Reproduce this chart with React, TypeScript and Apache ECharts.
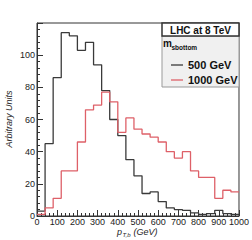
import React, { useEffect, useRef } from "react";
import * as echarts from "echarts";

// Lower edges of the 40 GeV bins
const binLow = [0, 40, 80, 120, 160, 200, 240, 280, 320, 360, 400, 440, 480, 520, 560, 600, 640, 680, 720, 760, 800, 840, 880, 920, 960];
const xMax = 1000;
const seriesNames = ["500 GeV", "1000 GeV"];
// m_sbottom = 500 GeV
const sb500 = [3, 45, 86, 114, 112, 103, 108, 94, 78, 60, 50, 35, 25, 14, 15, 9, 5, 4, 3.5, 2, 1, 1.5, 3.5, 1.5, 1];
// m_sbottom = 1000 GeV
const sb1000 = [1, 5, 11, 28, 28, 46, 66, 69, 77, 71, 52, 61, 54, 51, 49, 46, 40, 36, 40, 28, 24, 24, 11, 16, 15];

const toSteps = (vals: number[]) => {
  const pts: number[][] = binLow.map((x, i) => [x, vals[i]]);
  pts.push([xMax, vals[vals.length - 1]]);
  return pts;
};

const FONT = "Liberation Sans, Arial, Helvetica, sans-serif";

export default function App() {
  const ref = useRef<HTMLDivElement>(null);
  useEffect(() => {
    if (!ref.current) return;
    const chart = echarts.init(ref.current, undefined, { renderer: "svg" });
    chart.setOption({
      animation: false,
      backgroundColor: "#ffffff",
      textStyle: { fontFamily: FONT },
      grid: {
        left: 37,
        top: 23,
        width: 202,
        height: 193,
        show: true,
        borderColor: "#333",
        borderWidth: 1,
      },
      xAxis: {
        type: "value",
        min: 0,
        max: xMax,
        interval: 100,
        axisLine: { show: true, lineStyle: { color: "#333", width: 1 } },
        axisTick: { show: true, inside: true, length: 6, lineStyle: { color: "#333" } },
        minorTick: { show: true, splitNumber: 5, length: 3, lineStyle: { color: "#333" } },
        splitLine: { show: false },
        axisLabel: { fontSize: 9, color: "#222", margin: 1, fontFamily: FONT, formatter: (v: number) => String(v) },
      },
      yAxis: {
        type: "value",
        min: 0,
        max: 120,
        interval: 20,
        axisLine: { show: true, lineStyle: { color: "#333", width: 1 } },
        axisTick: { show: true, inside: true, length: 6, lineStyle: { color: "#333" } },
        minorTick: { show: true, splitNumber: 5, length: 3, lineStyle: { color: "#333" } },
        splitLine: { show: false },
        axisLabel: { fontSize: 9, color: "#222", margin: 2, showMaxLabel: false, fontFamily: FONT },
      },
      legend: {
        data: seriesNames,
        orient: "vertical",
        left: 166,
        top: 54,
        icon: "rect",
        itemWidth: 12,
        itemHeight: 1.3,
        itemGap: 3,
        z: 10,
        textStyle: { fontSize: 11, fontWeight: "bold", color: "#111", lineHeight: 12, fontFamily: FONT },
      },
      series: [
        {
          name: seriesNames[0],
          type: "line",
          step: "end",
          symbol: "none",
          data: toSteps(sb500),
          lineStyle: { color: "#3a3a3a", width: 1.3 },
          itemStyle: { color: "#3a3a3a" },
        },
        {
          name: seriesNames[1],
          type: "line",
          step: "end",
          symbol: "none",
          data: toSteps(sb1000),
          lineStyle: { color: "#de6068", width: 1.3 },
          itemStyle: { color: "#de6068" },
        },
      ],
      graphic: [
        {
          type: "rect",
          z: 5,
          shape: { x: 162, y: 36, width: 77, height: 51 },
          style: { fill: "#f0f0f0", stroke: "#999", lineWidth: 1 },
        },
        {
          type: "rect",
          z: 6,
          shape: { x: 162, y: 23, width: 77, height: 13 },
          style: { fill: "#ffffff", stroke: "#333", lineWidth: 1.5 },
        },
        {
          type: "text",
          z: 7,
          x: 200.5,
          y: 30,
          style: { text: "LHC at 8 TeV", font: `bold 10px ${FONT}`, fill: "#111", align: "center", verticalAlign: "middle" },
        },
        {
          type: "text",
          z: 7,
          x: 163,
          y: 43,
          style: { text: "m", font: `bold 10px ${FONT}`, fill: "#111", align: "left", verticalAlign: "middle" },
        },
        {
          type: "text",
          z: 7,
          x: 171.5,
          y: 47,
          style: { text: "sbottom", font: `bold 6.5px ${FONT}`, fill: "#111", align: "left", verticalAlign: "middle" },
        },
        {
          type: "text",
          x: 9,
          y: 119,
          rotation: Math.PI / 2,
          style: { text: "Arbitrary Units", font: `italic 9px ${FONT}`, fill: "#222", align: "center", verticalAlign: "middle" },
        },
        {
          type: "text",
          x: 117,
          y: 231.5,
          style: { text: "p", font: `italic 9px ${FONT}`, fill: "#222", align: "left", verticalAlign: "middle" },
        },
        {
          type: "text",
          x: 122.5,
          y: 235,
          style: { text: "T,b", font: `italic 6px ${FONT}`, fill: "#222", align: "left", verticalAlign: "middle" },
        },
        {
          type: "text",
          x: 133.5,
          y: 231.5,
          style: { text: "(GeV)", font: `italic 9px ${FONT}`, fill: "#222", align: "left", verticalAlign: "middle" },
        },
      ],
    });
    return () => chart.dispose();
  }, []);
  return <div ref={ref} style={{ position: "fixed", left: 0, top: 0, width: 252, height: 240 }} />;
}
